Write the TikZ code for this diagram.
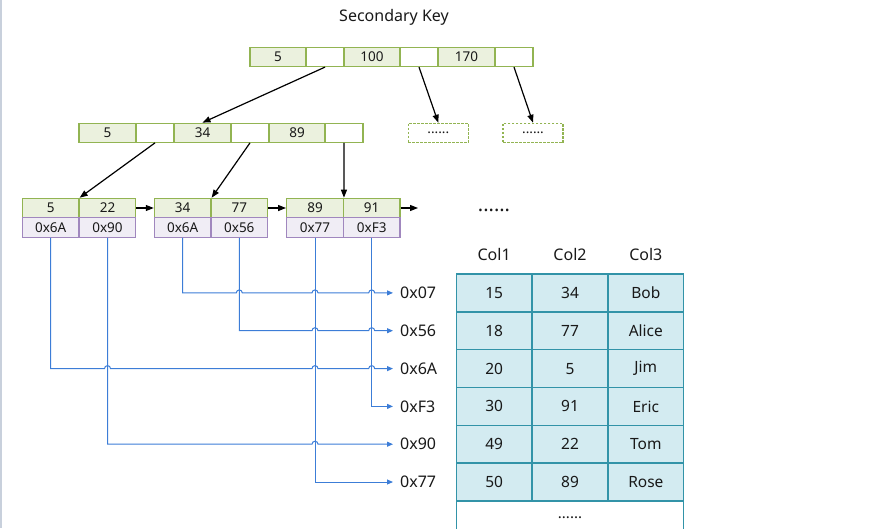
\documentclass[tikz,border=0pt]{standalone}
\usepackage{fontspec}
\setmainfont{Noto Sans}
\usetikzlibrary{arrows.meta}
\definecolor{gborder}{RGB}{146,180,82}
\definecolor{gfill}{RGB}{235,241,222}
\definecolor{pborder}{RGB}{160,135,190}
\definecolor{pfill}{RGB}{240,237,245}
\definecolor{tborder}{RGB}{50,147,168}
\definecolor{tfill}{RGB}{211,235,241}
\definecolor{bline}{RGB}{60,125,215}
\definecolor{textc}{RGB}{25,25,25}
\definecolor{edgec}{RGB}{200,208,220}
\begin{document}
\begin{tikzpicture}[x=1pt,y=-1pt,
  cell/.style={inner sep=0pt, line width=1.2pt, minimum height=19pt, font=\fontsize{13.5}{15}\selectfont, text=textc},
  gcell/.style={cell, draw=gborder, fill=gfill},
  wcell/.style={cell, draw=gborder, fill=white},
  pcell/.style={cell, draw=pborder, fill=pfill, minimum width=56.7pt, minimum height=19.6pt},
  lcell/.style={gcell, minimum width=56.7pt, minimum height=19.4pt},
  dotbox/.style={cell, draw=gborder, dash pattern=on 2.5pt off 1.5pt, minimum width=60pt, minimum height=19.4pt},
  arr/.style={line width=1.2pt, -{Triangle[length=8pt,width=6pt]}},
  bl/.style={draw=bline, line width=1pt, -{Triangle[length=6pt,width=5pt]}},
  tcell/.style={draw=tborder, fill=tfill, line width=1.5pt, minimum width=75.7pt, minimum height=37.8pt, inner sep=0pt, font=\fontsize{15.5}{18}\selectfont, text=textc},
  big/.style={font=\fontsize{16}{19}\selectfont, text=textc},
  addr/.style={big, anchor=west, inner xsep=7pt, inner ysep=0pt}
]
\useasboundingbox (0,0) rectangle (877,528);
\draw[edgec, line width=1.5pt] (0.75,0) -- (0.75,528);

\node[big] (title) at (394,17) {Secondary Key};

% top level
\node[gcell, minimum width=56pt] (t1) at (278,57) {5};
\node[wcell, minimum width=38pt] (t2) at (325,57) {};
\node[gcell, minimum width=56pt] (t3) at (372,57) {100};
\node[wcell, minimum width=38pt] (t4) at (419,57) {};
\node[gcell, minimum width=57pt] (t5) at (466.5,57) {170};
\node[wcell, minimum width=38pt] (t6) at (514,57) {};

% second level
\node[gcell, minimum width=57pt] (s1) at (107.5,132.75) {5};
\node[wcell, minimum width=38pt] (s2) at (155,132.75) {};
\node[gcell, minimum width=57pt] (s3) at (202.5,132.75) {34};
\node[wcell, minimum width=38pt] (s4) at (250,132.75) {};
\node[gcell, minimum width=56pt] (s5) at (297,132.75) {89};
\node[wcell, minimum width=38pt] (s6) at (344,132.75) {};

\node[dotbox] (d1) at (438.3,133) {......};
\node[dotbox] (d2) at (533,133) {......};

% leaves
\node[lcell] (l1a) at (50.7,208) {5};
\node[lcell] (l1b) at (107.5,208) {22};
\node[pcell] (l1c) at (50.7,227.5) {0x6A};
\node[pcell] (l1d) at (107.5,227.5) {0x90};
\node[lcell] (l2a) at (182.7,208) {34};
\node[lcell] (l2b) at (239.3,208) {77};
\node[pcell] (l2c) at (182.7,227.5) {0x6A};
\node[pcell] (l2d) at (239.3,227.5) {0x56};
\node[lcell] (l3a) at (315,208) {89};
\node[lcell] (l3b) at (371.7,208) {91};
\node[pcell] (l3c) at (315,227.5) {0x77};
\node[pcell] (l3d) at (371.7,227.5) {0xF3};
\coordinate (lend) at (418,208);

\node[font=\fontsize{20}{20}\bfseries\selectfont, text=textc] (more) at (494,210) {......};

% tree arrows
\draw[arr] (t2.south) -- (s3.north);
\draw[arr] (t4.south) -- (d1.north);
\draw[arr] (t6.south) -- (d2.north);
\draw[arr] (s2.south) -- (l1a.north east);
\draw[arr] (s4.south) -- (l2a.north east);
\draw[arr] (s6.south) -- (l3a.north east);
\draw[arr] (l1b.east) -- (l2a.west);
\draw[arr] (l2b.east) -- (l3a.west);
\draw[arr] (l3b.east) -- (lend);

% table
\node[big] (h1) at (494.15,254) {Col1};
\node[big] (h2) at (570,254) {Col2};
\node[big] (h3) at (645.85,254) {Col3};
\foreach \a/\b/\c [count=\i] in {15/34/Bob,18/77/Alice,20/5/Jim,30/91/Eric,49/22/Tom,50/89/Rose}{
  \pgfmathsetmacro\yy{274+37.83*(\i-0.5)}
  \node[tcell] (r\i a) at (494.15,\yy) {\a};
  \node[tcell] (r\i b) at (570,\yy) {\b};
  \node[tcell] (r\i c) at (645.85,\yy) {\c};
}
\draw[tborder, line width=1.5pt] (456.3,501) -- (456.3,530);
\draw[tborder, line width=1.5pt] (683.7,501) -- (683.7,530);
\node[font=\fontsize{15}{16}\selectfont, text=textc] (tmore) at (570,518) {......};

% address labels
\node[addr] (a1) at (393,292.9) {0x07};
\node[addr] (a2) at (393,330.7) {0x56};
\node[addr] (a3) at (393,368.6) {0x6A};
\node[addr] (a4) at (393,406.4) {0xF3};
\node[addr] (a5) at (393,444.2) {0x90};
\node[addr] (a6) at (393,482) {0x77};

% pointer lines
\draw[bl] (l2c.south) -- (182.7,292.9) -- (236.3,292.9) arc[start angle=180,end angle=360,radius=3]
  -- (312,292.9) arc[start angle=180,end angle=360,radius=3]
  -- (368.7,292.9) arc[start angle=180,end angle=360,radius=3] -- (a1.west);
\draw[bl] (l2d.south) -- (239.3,330.7) -- (312,330.7) arc[start angle=180,end angle=360,radius=3]
  -- (368.7,330.7) arc[start angle=180,end angle=360,radius=3] -- (a2.west);
\draw[bl] (l1c.south) -- (50.7,368.6) -- (104.5,368.6) arc[start angle=180,end angle=360,radius=3]
  -- (312,368.6) arc[start angle=180,end angle=360,radius=3]
  -- (368.7,368.6) arc[start angle=180,end angle=360,radius=3] -- (a3.west);
\draw[bl] (l3d.south) -- (371.7,406.4) -- (a4.west);
\draw[bl] (l1d.south) -- (107.5,444.2) -- (312,444.2) arc[start angle=180,end angle=360,radius=3] -- (a5.west);
\draw[bl] (l3c.south) -- (315,482) -- (a6.west);
\end{tikzpicture}
\end{document}
